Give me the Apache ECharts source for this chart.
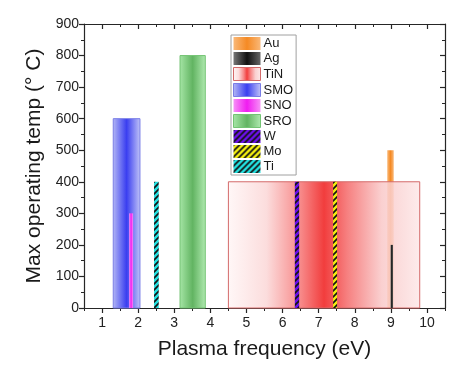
<!DOCTYPE html>
<html>
<head>
<meta charset="utf-8">
<script src="https://cdn.jsdelivr.net/npm/echarts@6/dist/echarts.min.js"></script>
<style>html,body{margin:0;padding:0;background:#fff;}#c{width:458px;height:365px;}</style>
</head>
<body>
<div id="c"></div>
<script>
// ---- data ----
const materials = ['Au', 'Ag', 'TiN', 'SMO', 'SNO', 'SRO', 'W', 'Mo', 'Ti'];
const freqStart = [8.90, 8.99, 4.50, 1.31, 1.75, 3.16, 6.34, 7.40, 2.44];
const freqEnd   = [9.08, 9.06, 9.80, 2.05, 1.86, 3.86, 6.46, 7.51, 2.57];
const maxTemp   = [500, 200, 400, 600, 300, 800, 400, 400, 400];
const xTicks = [1, 2, 3, 4, 5, 6, 7, 8, 9, 10];
const xHalfTicks = [0.5, 1.5, 2.5, 3.5, 4.5, 5.5, 6.5, 7.5, 8.5, 9.5, 10.5];
const yTicks = [0, 100, 200, 300, 400, 500, 600, 700, 800, 900];
const drawOrder = ['Au', 'TiN', 'Ag', 'SMO', 'SNO', 'SRO', 'W', 'Mo', 'Ti'];

// ---- styles ----
const LG = (stops) => new echarts.graphic.LinearGradient(0, 0, 1, 0, stops.map((c, i) => ({offset: c[0], color: c[1]})));
function hatch(bg) {
  const c = document.createElement('canvas');
  c.width = 6; c.height = 6;
  const g = c.getContext('2d');
  g.fillStyle = bg; g.fillRect(0, 0, 6, 6);
  g.strokeStyle = '#141414'; g.lineWidth = 1.7;
  g.beginPath();
  g.moveTo(-1, 7); g.lineTo(7, -1);
  g.moveTo(-4, 4); g.lineTo(4, -4);
  g.moveTo(2, 10); g.lineTo(10, 2);
  g.stroke();
  return {image: c, repeat: 'repeat'};
}
const styles = {
  Au:  {fill: () => LG([[0, '#f9b878'], [0.5, '#f58a24'], [1, '#f9b878']]), stroke: null},
  Ag:  {fill: () => LG([[0, '#777'], [0.5, '#111'], [1, '#666']]), stroke: null},
  TiN: {fill: () => LG([[0, 'rgba(255,246,246,0.85)'], [0.2, 'rgba(251,215,215,0.85)'], [0.38, 'rgba(246,120,120,0.88)'], [0.5, 'rgba(240,40,40,0.9)'], [0.62, 'rgba(245,110,110,0.88)'], [0.8, 'rgba(249,200,200,0.85)'], [1, 'rgba(253,232,232,0.85)']]), stroke: '#d46a6a'},
  SMO: {fill: () => LG([[0, '#b4b8f5'], [0.5, '#3a3ef0'], [1, '#c2c5f8']]), stroke: '#7a7ee6'},
  SNO: {fill: () => LG([[0, '#f790f7'], [0.5, '#f01cf0'], [1, '#f790f7']]), stroke: null},
  SRO: {fill: () => LG([[0, '#a6e6a6'], [0.5, '#62b462'], [1, '#b0eab0']]), stroke: '#74c474'},
  W:   {fill: () => hatch('#6a10e8'), stroke: null},
  Mo:  {fill: () => hatch('#f2ee10'), stroke: null},
  Ti:  {fill: () => hatch('#22e0e0'), stroke: null}
};

const FONT = 'Liberation Sans, Arial, sans-serif';
const AX = '#262626';

function makeRender(name) {
  const st = styles[name];
  const fill = st.fill();
  return function (params, api) {
    const p0 = api.coord([api.value(0), 0]);
    const p1 = api.coord([api.value(1), api.value(2)]);
    return {
      type: 'rect',
      shape: {x: p0[0], y: p1[1], width: p1[0] - p0[0], height: p0[1] - p1[1]},
      style: {fill: fill, stroke: st.stroke || null, lineWidth: st.stroke ? 1 : 0}
    };
  };
}

const series = drawOrder.map(name => {
  const i = materials.indexOf(name);
  return {
    type: 'custom',
    name: name,
    renderItem: makeRender(name),
    encode: {x: [0, 1], y: 2},
    data: [[freqStart[i], freqEnd[i], maxTemp[i]]],
    itemStyle: {color: styles[name].fill()},
    silent: true
  };
});

const legendData = materials.map(name => ({
  name: name,
  icon: 'rect',
  itemStyle: {color: styles[name].fill(), borderColor: styles[name].stroke || 'transparent', borderWidth: styles[name].stroke ? 1 : 0}
}));

const baseX = {type: 'value', min: 0.5, max: 10.5, interval: 0.5, splitLine: {show: false},
  axisLine: {show: true, lineStyle: {color: AX, width: 1.2}}};
const baseY = {type: 'value', min: 0, max: 900, interval: 100, splitLine: {show: false},
  axisLine: {show: true, lineStyle: {color: AX, width: 1.2}}};

const option = {
  backgroundColor: '#ffffff',
  animation: false,
  textStyle: {fontFamily: FONT},
  grid: {left: 84, right: 13, top: 24, bottom: 57, containLabel: false},
  legend: {
    show: true, orient: 'vertical', left: 231, top: 35,
    itemWidth: 27, itemHeight: 13, itemGap: 2, padding: [2, 3, 2, 2],
    borderColor: '#a0a0a0', borderWidth: 1, backgroundColor: '#fff',
    selectedMode: false,
    textStyle: {fontSize: 13, color: '#1a1a1a', fontFamily: FONT, lineHeight: 13, padding: [0, 0, 0, -2]},
    data: legendData
  },
  xAxis: [
    Object.assign({}, baseX, {
      position: 'bottom',
      name: 'Plasma frequency (eV)', nameLocation: 'middle', nameGap: 31,
      nameTextStyle: {fontSize: 21, color: '#1a1a1a', fontFamily: FONT},
      axisTick: {show: true, length: 5, lineStyle: {color: AX, width: 1.2}, customValues: xTicks},
      axisLabel: {show: true, fontSize: 14, color: '#222', margin: 8, fontFamily: FONT, customValues: xTicks}
    }),
    Object.assign({}, baseX, {
      position: 'bottom',
      axisTick: {show: true, length: 3, lineStyle: {color: AX, width: 1}, customValues: xHalfTicks},
      axisLabel: {show: false}
    }),
    Object.assign({}, baseX, {
      position: 'top',
      axisTick: {show: true, inside: true, length: 5, lineStyle: {color: AX, width: 1.2}, customValues: xTicks},
      axisLabel: {show: false}
    }),
    Object.assign({}, baseX, {
      position: 'top',
      axisTick: {show: true, inside: true, length: 3, lineStyle: {color: AX, width: 1}, customValues: xHalfTicks},
      axisLabel: {show: false}
    })
  ],
  yAxis: [
    Object.assign({}, baseY, {
      position: 'left',
      name: 'Max operating temp (° C)', nameLocation: 'middle', nameGap: 36, nameRotate: 90,
      nameTextStyle: {fontSize: 21, color: '#1a1a1a', fontFamily: FONT},
      axisTick: {show: true, length: 5, lineStyle: {color: AX, width: 1.2}},
      minorTick: {show: true, splitNumber: 2, length: 3, lineStyle: {color: AX, width: 1}},
      axisLabel: {show: true, fontSize: 14, color: '#222', margin: 5, fontFamily: FONT,
        customValues: yTicks}
    }),
    Object.assign({}, baseY, {
      position: 'right',
      axisTick: {show: true, inside: true, length: 5, lineStyle: {color: AX, width: 1.2}},
      minorTick: {show: true, splitNumber: 2, length: 3, lineStyle: {color: AX, width: 1}},
      axisLabel: {show: false}
    })
  ],
  series: series
};

const chart = echarts.init(document.getElementById('c'), null, {renderer: 'canvas'});
chart.setOption(option);
</script>
</body>
</html>
